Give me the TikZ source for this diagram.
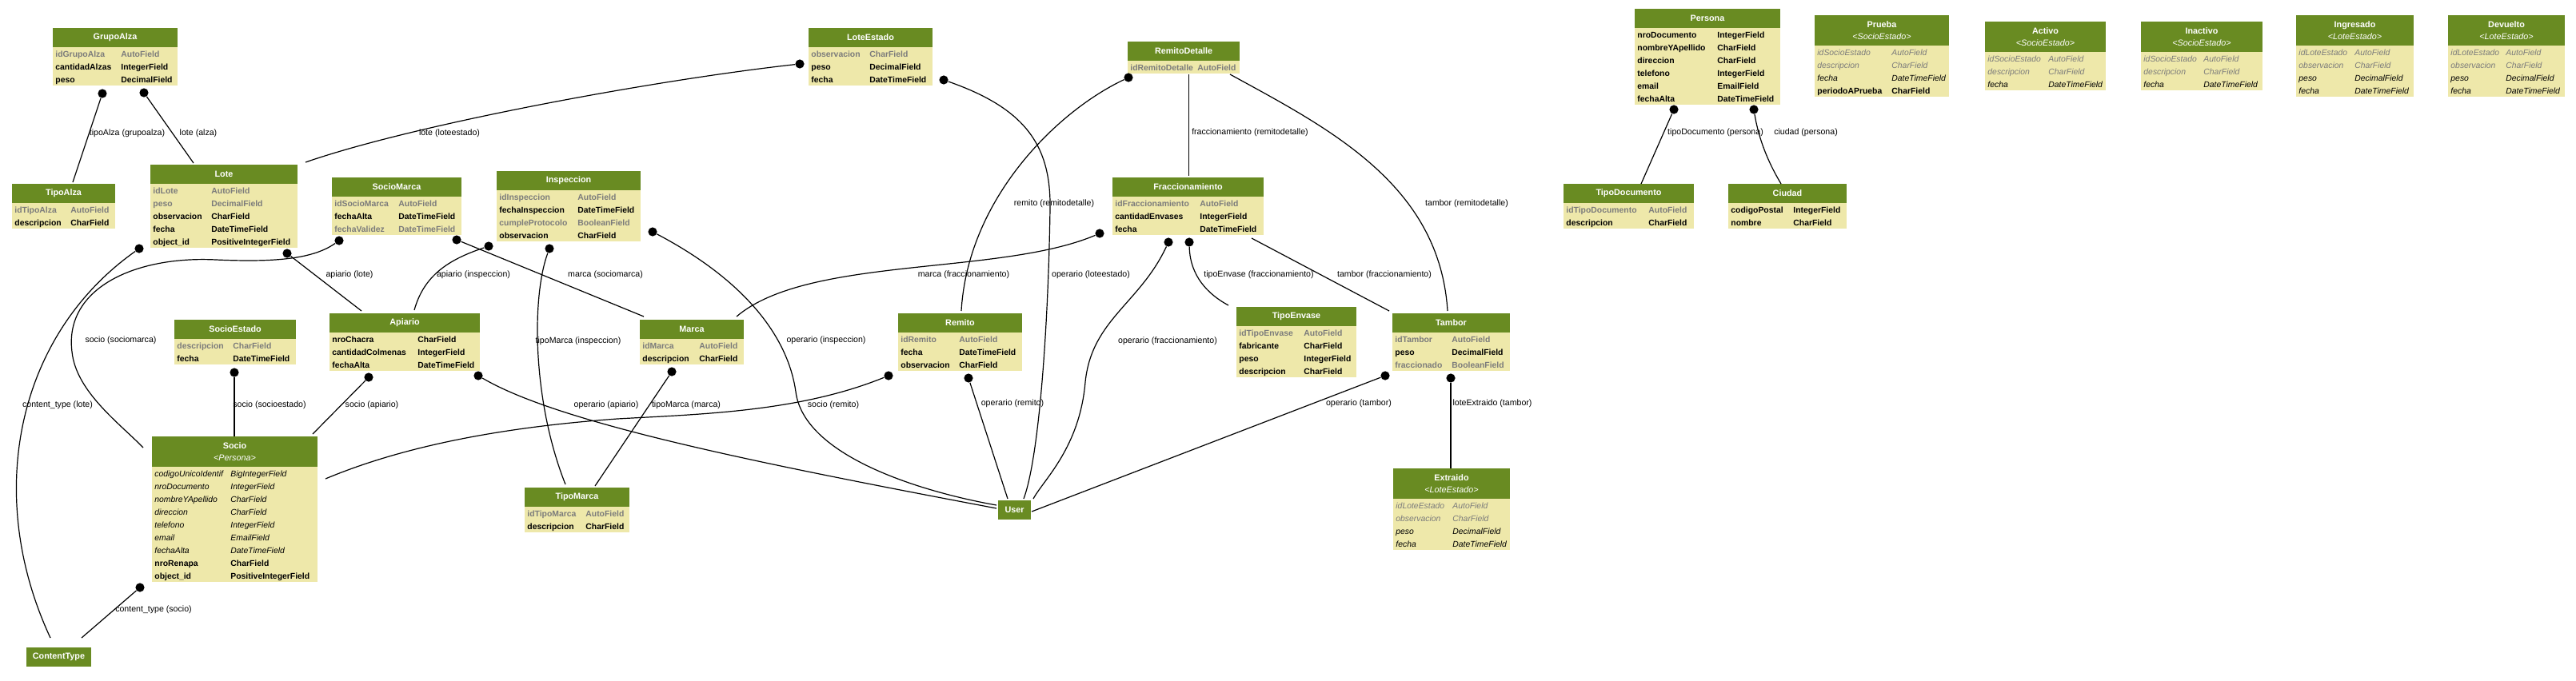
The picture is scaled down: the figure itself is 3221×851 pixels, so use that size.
\documentclass[tikz,border=0pt]{standalone}
\usepackage{fontspec}
\setmainfont{Liberation Sans}
\definecolor{hdr}{HTML}{698B22}
\definecolor{bdy}{HTML}{EEE8AA}
\definecolor{pk}{RGB}{123,123,123}
\tikzset{
  hdrtext/.style={text=white, font=\fontsize{5.4}{7.5}\selectfont\bfseries, align=center, inner sep=0},
  cell/.style={anchor=base west, inner sep=0},
  fb/.style={cell, font=\fontsize{5.2}{6.4}\selectfont\bfseries, text=black},
  fg/.style={cell, font=\fontsize{5.2}{6.4}\selectfont\bfseries, text=pk},
  fi/.style={cell, font=\fontsize{5.2}{6.4}\selectfont\itshape, text=black},
  fj/.style={cell, font=\fontsize{5.2}{6.4}\selectfont\itshape, text=pk},
  hbox/.style={fill=hdr, inner sep=0, text=white, font=\fontsize{5.4}{7.5}\selectfont\bfseries},
  dot/.style={circle, fill=black, inner sep=0, minimum size=5.6pt},
  edge/.style={line width=0.6pt, black},
  lbl/.style={inner sep=0, font=\fontsize{5.3}{6}\selectfont, text=black},
}
% #1 name #2 x #3 y #4 w #5 header h #6 nrows #7 title #8 col2 off #9 rows
\newcommand{\mtable}[9]{%
  \node[fill=bdy, inner sep=0, outer sep=0, anchor=north west,
        minimum width={#4*0.5pt}, minimum height={(#5+16*#6)*0.5pt}] (#1) at (#2,#3) {};
  \fill[hdr] (#2,#3) rectangle ++(#4,#5);
  \node[hdrtext] (#1-h) at ({#2+#4/2},{#3+#5/2}) {#7};
  \foreach \s/\a/\b [count=\i from 0] in {#9} {
    \node[\s] (#1-a\i) at ({#2+3},{#3+#5+12+16*\i}) {\a};
    \node[\s] (#1-b\i) at ({#2+#8},{#3+#5+12+16*\i}) {\b};
  }%
}
\begin{document}
\begin{tikzpicture}[x=0.5pt,y=-0.5pt]
\path[use as bounding box, fill=white] (0,0) rectangle (3221,851);

% ---------- tables ----------
\mtable{GrupoAlza}{66}{35}{156}{24}{3}{GrupoAlza}{85}{fg/idGrupoAlza/AutoField, fb/cantidadAlzas/IntegerField, fb/peso/DecimalField}
\mtable{TipoAlza}{15}{230}{129}{24}{2}{TipoAlza}{73}{fg/idTipoAlza/AutoField, fb/descripcion/CharField}
\mtable{Lote}{188}{206}{184}{24}{5}{Lote}{76}{fg/idLote/AutoField, fg/peso/DecimalField, fb/observacion/CharField, fb/fecha/DateTimeField, fb/object\_id/PositiveIntegerField}
\mtable{SocioMarca}{415}{222}{162}{24}{3}{SocioMarca}{83}{fg/idSocioMarca/AutoField, fb/fechaAlta/DateTimeField, fg/fechaValidez/DateTimeField}
\mtable{Inspeccion}{621}{214}{180}{24}{4}{Inspeccion}{101}{fg/idInspeccion/AutoField, fb/fechaInspeccion/DateTimeField, fg/cumpleProtocolo/BooleanField, fb/observacion/CharField}
\mtable{LoteEstado}{1011}{35}{155}{24}{3}{LoteEstado}{76}{fg/observacion/CharField, fb/peso/DecimalField, fb/fecha/DateTimeField}
\mtable{RemitoDetalle}{1410}{52}{140}{24}{1}{RemitoDetalle}{87}{fg/idRemitoDetalle/AutoField}
\mtable{Fraccionamiento}{1391}{222}{189}{24}{3}{Fraccionamiento}{109}{fg/idFraccionamiento/AutoField, fb/cantidadEnvases/IntegerField, fb/fecha/DateTimeField}
\mtable{Remito}{1123}{392}{155}{24}{3}{Remito}{76}{fg/idRemito/AutoField, fb/fecha/DateTimeField, fb/observacion/CharField}
\mtable{TipoEnvase}{1546}{384}{150}{24}{4}{TipoEnvase}{84}{fg/idTipoEnvase/AutoField, fb/fabricante/CharField, fb/peso/IntegerField, fb/descripcion/CharField}
\mtable{Tambor}{1741}{392}{147}{24}{3}{Tambor}{74}{fg/idTambor/AutoField, fb/peso/DecimalField, fg/fraccionado/BooleanField}
\mtable{Persona}{2044}{11}{182}{24}{6}{Persona}{103}{fb/nroDocumento/IntegerField, fb/nombreYApellido/CharField, fb/direccion/CharField, fb/telefono/IntegerField, fb/email/EmailField, fb/fechaAlta/DateTimeField}
\mtable{Prueba}{2269}{19}{168}{38}{4}{Prueba\\{\mdseries\itshape <SocioEstado>}}{96}{fj/idSocioEstado/AutoField, fj/descripcion/CharField, fi/fecha/DateTimeField, fb/periodoAPrueba/CharField}
\mtable{Activo}{2482}{27}{151}{38}{3}{Activo\\{\mdseries\itshape <SocioEstado>}}{79}{fj/idSocioEstado/AutoField, fj/descripcion/CharField, fi/fecha/DateTimeField}
\mtable{Inactivo}{2677}{27}{152}{38}{3}{Inactivo\\{\mdseries\itshape <SocioEstado>}}{78}{fj/idSocioEstado/AutoField, fj/descripcion/CharField, fi/fecha/DateTimeField}
\mtable{Ingresado}{2871}{19}{147}{38}{4}{Ingresado\\{\mdseries\itshape <LoteEstado>}}{73}{fj/idLoteEstado/AutoField, fj/observacion/CharField, fi/peso/DecimalField, fi/fecha/DateTimeField}
\mtable{Devuelto}{3061}{19}{146}{38}{4}{Devuelto\\{\mdseries\itshape <LoteEstado>}}{72}{fj/idLoteEstado/AutoField, fj/observacion/CharField, fi/peso/DecimalField, fi/fecha/DateTimeField}
\mtable{TipoDocumento}{1955}{230}{163}{24}{2}{TipoDocumento}{106}{fg/idTipoDocumento/AutoField, fb/descripcion/CharField}
\mtable{Ciudad}{2161}{230}{148}{24}{2}{Ciudad}{81}{fb/codigoPostal/IntegerField, fb/nombre/CharField}
\mtable{SocioEstado}{218}{400}{152}{24}{2}{SocioEstado}{73}{fg/descripcion/CharField, fb/fecha/DateTimeField}
\mtable{Apiario}{412}{392}{188}{24}{3}{Apiario}{110}{fb/nroChacra/CharField, fb/cantidadColmenas/IntegerField, fb/fechaAlta/DateTimeField}
\mtable{Marca}{800}{400}{130}{24}{2}{Marca}{74}{fg/idMarca/AutoField, fb/descripcion/CharField}
\mtable{Socio}{190}{546}{207}{38}{9}{Socio\\{\mdseries\itshape <Persona>}}{98}{fi/codigoUnicoIdentif/BigIntegerField, fi/nroDocumento/IntegerField, fi/nombreYApellido/CharField, fi/direccion/CharField, fi/telefono/IntegerField, fi/email/EmailField, fi/fechaAlta/DateTimeField, fb/nroRenapa/CharField, fb/object\_id/PositiveIntegerField}
\mtable{TipoMarca}{656}{610}{131}{24}{2}{TipoMarca}{76}{fg/idTipoMarca/AutoField, fb/descripcion/CharField}
\mtable{Extraido}{1742}{586}{146}{38}{4}{Extraido\\{\mdseries\itshape <LoteEstado>}}{74}{fj/idLoteEstado/AutoField, fj/observacion/CharField, fi/peso/DecimalField, fi/fecha/DateTimeField}
\node[hbox, minimum width=20.5pt, minimum height=12pt] (User) at (1268.5,638) {User};
\node[hbox, minimum width=40.5pt, minimum height=12pt] (ContentType) at (73.5,822) {ContentType};

% ---------- dots (tails) ----------
\node[dot] (d1) at (128,117) {};
\node[dot] (d2) at (180,116) {};
\node[dot] (d3) at (1000,80) {};
\node[dot] (d4) at (359,317) {};
\node[dot] (d5) at (174,311) {};
\node[dot] (d6) at (424,301) {};
\node[dot] (d7) at (571,300) {};
\node[dot] (d8) at (611,308) {};
\node[dot] (d9) at (687,311) {};
\node[dot] (d10) at (816,290) {};
\node[dot] (d11) at (1180,100) {};
\node[dot] (d12) at (1411,97) {};
\node[dot] (d15) at (1375,292) {};
\node[dot] (d16) at (1461,303) {};
\node[dot] (d17) at (1487,303) {};
\node[dot] (d19) at (293,466) {};
\node[dot] (d20) at (461,472) {};
\node[dot] (d21) at (598,470) {};
\node[dot] (d22) at (840,465) {};
\node[dot] (d23) at (1111,470) {};
\node[dot] (d24) at (1211,473) {};
\node[dot] (d25) at (1732,470) {};
\node[dot] (d26) at (1814,473) {};
\node[dot] (d27) at (175,735) {};
\node[dot] (d28) at (2093,137) {};
\node[dot] (d29) at (2193,137) {};
\coordinate (s13) at (1486.5,93);
\coordinate (s14) at (1538,93);
\coordinate (s18) at (1565,298);

% ---------- heads ----------
\coordinate (t1) at (91,228);
\coordinate (t2) at (242,204);
\coordinate (t3) at (382,203);
\coordinate (t4) at (452,389);
\coordinate (t5) at (63,798);
\coordinate (t6) at (179,560);
\coordinate (t7) at (805,396);
\coordinate (t8) at (518,388);
\coordinate (t9) at (707,606);
\coordinate (t10) at (1246,632);
\coordinate (t11) at (1280,624);
\coordinate (t12) at (1202,389);
\coordinate (t13) at (1486.5,220);
\coordinate (t14) at (1810,389);
\coordinate (t15) at (921,396);
\coordinate (t16) at (1292,624);
\coordinate (t17) at (1536,382);
\coordinate (t18) at (1737,389);
\coordinate (t19) at (293,546);
\coordinate (t20) at (391,543);
\coordinate (t21) at (1246,636);
\coordinate (t22) at (744,608);
\coordinate (t23) at (407,599);
\coordinate (t24) at (1260,624);
\coordinate (t25) at (1290,640);
\coordinate (t26) at (1814,586);
\coordinate (t27) at (102,798);
\coordinate (t28) at (2052,230);
\coordinate (t29) at (2227,230);

% ---------- connectors ----------
\draw[edge] (d1) -- (t1);
\draw[edge] (d2) -- (t2);
\draw[edge] (d3) .. controls (820,100) and (520,155) .. (t3);
\draw[edge] (d4) -- (t4);
\draw[edge] (d5) .. controls (20,420) and (-20,620) .. (t5);
\draw[edge] (d6) .. controls (390,325) and (340,328) .. (270,325) .. controls (170,320) and (80,360) .. (90,440) .. controls (95,490) and (150,530) .. (t6);
\draw[edge] (d7) -- (t7);
\draw[edge] (d8) .. controls (560,325) and (530,345) .. (t8);
\draw[edge] (d9) .. controls (665,370) and (665,500) .. (t9);
\draw[edge] (d10) .. controls (930,350) and (985,420) .. (995,490) .. controls (1005,570) and (1150,615) .. (t10);
\draw[edge] (d11) .. controls (1280,135) and (1314,180) .. (1313,260) .. controls (1311,400) and (1300,570) .. (t11);
\draw[edge] (d12) .. controls (1320,140) and (1210,250) .. (t12);
\draw[edge] (s13) -- (t13);
\draw[edge] (s14) .. controls (1660,160) and (1800,230) .. (t14);
\draw[edge] (d15) .. controls (1250,345) and (1010,320) .. (t15);
\draw[edge] (d16) .. controls (1425,380) and (1365,400) .. (1357,478) .. controls (1350,560) and (1305,600) .. (t16);
\draw[edge] (d17) .. controls (1488,345) and (1510,368) .. (t17);
\draw[edge] (s18) -- (t18);
\draw[edge] (d19) -- (t19);
\draw[edge] (d20) -- (t20);
\draw[edge] (d21) .. controls (700,530) and (950,580) .. (t21);
\draw[edge] (d22) -- (t22);
\draw[edge] (d23) .. controls (1000,515) and (880,518) .. (772,524) .. controls (620,535) and (500,560) .. (t23);
\draw[edge] (d24) -- (t24);
\draw[edge] (d25) -- (t25);
\draw[edge] (d26) -- (t26);
\draw[edge] (d27) -- (t27);
\draw[edge] (d28) -- (t28);
\draw[edge] (d29) .. controls (2200,180) and (2215,210) .. (t29);

% ---------- labels ----------
\node[lbl] (l1) at (159,167) {tipoAlza (grupoalza)};
\node[lbl] (l2) at (248,167) {lote (alza)};
\node[lbl] (l3) at (562,167) {lote (loteestado)};
\node[lbl] (l4) at (437,344) {apiario (lote)};
\node[lbl] (l5) at (72,507) {content\_type (lote)};
\node[lbl] (l6) at (151,426) {socio (sociomarca)};
\node[lbl] (l7) at (757,344) {marca (sociomarca)};
\node[lbl] (l8) at (592,344) {apiario (inspeccion)};
\node[lbl] (l9) at (723,427) {tipoMarca (inspeccion)};
\node[lbl] (l10) at (1033,426) {operario (inspeccion)};
\node[lbl] (l11) at (1364,344) {operario (loteestado)};
\node[lbl] (l12) at (1318,255) {remito (remitodetalle)};
\node[lbl] (l13) at (1563,166) {fraccionamiento (remitodetalle)};
\node[lbl] (l14) at (1834,255) {tambor (remitodetalle)};
\node[lbl] (l15) at (1205,344) {marca (fraccionamiento)};
\node[lbl] (l16) at (1460,427) {operario (fraccionamiento)};
\node[lbl] (l17) at (1574,344) {tipoEnvase (fraccionamiento)};
\node[lbl] (l18) at (1731,344) {tambor (fraccionamiento)};
\node[lbl] (l19) at (337,507) {socio (socioestado)};
\node[lbl] (l20) at (465,507) {socio (apiario)};
\node[lbl] (l21) at (758,507) {operario (apiario)};
\node[lbl] (l22) at (858,507) {tipoMarca (marca)};
\node[lbl] (l23) at (1042,507) {socio (remito)};
\node[lbl] (l24) at (1266,505) {operario (remito)};
\node[lbl] (l25) at (1699,505) {operario (tambor)};
\node[lbl] (l26) at (1866,505) {loteExtraido (tambor)};
\node[lbl] (l27) at (192,763) {content\_type (socio)};
\node[lbl] (l28) at (2145,166) {tipoDocumento (persona)};
\node[lbl] (l29) at (2258,166) {ciudad (persona)};
\end{tikzpicture}
\end{document}
